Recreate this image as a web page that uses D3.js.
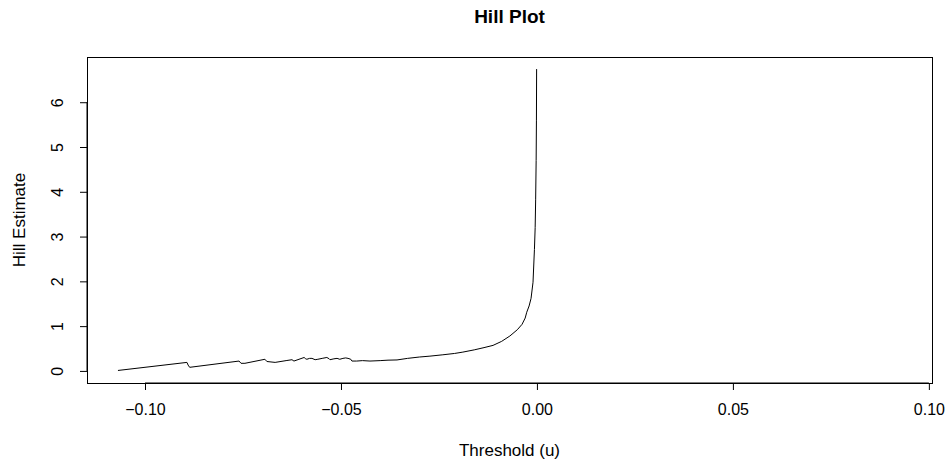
<!DOCTYPE html>
<html>
<head>
<meta charset="utf-8">
<script src="https://cdn.jsdelivr.net/npm/d3@7"></script>
<style>
  body { margin: 0; background: #fff; }
  svg { display: block; }
  text { font-family: "Liberation Sans", Arial, Helvetica, sans-serif; fill: #000; }
</style>
</head>
<body>
<svg id="chart" width="947" height="466"></svg>
<script>
const title = "Hill Plot";
const xLabel = "Threshold (u)";
const yLabel = "Hill Estimate";
const xTicks = [-0.10, -0.05, 0.00, 0.05, 0.10];
const xTickLabels = ["\u22120.10", "\u22120.05", "0.00", "0.05", "0.10"];
const yTicks = [0, 1, 2, 3, 4, 5, 6];
const xDomain = [-0.1148, 0.1008];
const yDomain = [-0.27, 7.01];

// threshold values (u)
const thresholds = [
  -0.1069, -0.0893, -0.0890, -0.0886, -0.0760, -0.0755, -0.0745,
  -0.0694, -0.0689, -0.0668, -0.0640, -0.0625, -0.0620, -0.0594, -0.0590,
  -0.0587, -0.0580, -0.0574, -0.0566, -0.0559, -0.0548, -0.0536, -0.0530,
  -0.0528, -0.0518, -0.0510, -0.0503, -0.0495, -0.0488, -0.0482, -0.0475,
  -0.0472, -0.0460, -0.0445, -0.0426, -0.0400, -0.0380, -0.0357, -0.0330,
  -0.0300, -0.0273, -0.0240, -0.0210, -0.0189, -0.0160, -0.0135, -0.0112,
  -0.0090, -0.0069, -0.0050, -0.0038, -0.0030, -0.0026, -0.0020, -0.0015,
  -0.0010, -0.00064, -0.00045, -0.00033, -0.00020, -0.00013, -0.00008
];
// Hill estimates
const hillValues = [
  0.01, 0.19, 0.13, 0.08, 0.22, 0.17, 0.17,
  0.26, 0.21, 0.19, 0.23, 0.25, 0.22, 0.30, 0.27,
  0.26, 0.28, 0.28, 0.25, 0.26, 0.28, 0.30, 0.27,
  0.25, 0.27, 0.28, 0.26, 0.28, 0.29, 0.28, 0.26,
  0.22, 0.22, 0.23, 0.22, 0.23, 0.24, 0.245, 0.28,
  0.31, 0.33, 0.36, 0.39, 0.42, 0.47, 0.52, 0.57,
  0.66, 0.78, 0.92, 1.04, 1.18, 1.31, 1.45, 1.62,
  1.98, 2.71, 3.20, 3.82, 4.70, 5.60, 6.74
];

const svg = d3.select("#chart");
const L = 87, R = 932, T = 57, B = 383;
const FS = 16;
const x = d3.scaleLinear().domain(xDomain).range([L, R]);
const y = d3.scaleLinear().domain(yDomain).range([B, T]);

// box
svg.append("rect").attr("x", L).attr("y", T).attr("width", R - L).attr("height", B - T)
  .attr("fill", "none").attr("stroke", "#000").attr("stroke-width", 1).attr("shape-rendering", "crispEdges");

// x axis
const xAxis = d3.axisBottom(x).tickValues(xTicks).tickSize(7).tickPadding(14)
  .tickFormat((d, i) => xTickLabels[i]);
const gx = svg.append("g").attr("transform", `translate(0,${B})`).call(xAxis);
gx.select(".domain").attr("d", `M${x(xTicks[0])},0H${x(xTicks[xTicks.length-1])}`).attr("stroke", "#000");
gx.selectAll("text").attr("font-size", FS).attr("font-family", "Liberation Sans, Arial, sans-serif").attr("fill", "#000");
gx.selectAll("line").attr("stroke", "#000");

// y axis
const yAxis = d3.axisLeft(y).tickValues(yTicks).tickSize(7).tickFormat(d3.format("d"));
const gy = svg.append("g").attr("transform", `translate(${L},0)`).call(yAxis);
gy.select(".domain").attr("d", `M0,${y(yTicks[0])}V${y(yTicks[yTicks.length-1])}`).attr("stroke", "#000");
gy.selectAll("line").attr("stroke", "#000");
gy.selectAll("text")
  .attr("font-size", FS).attr("font-family", "Liberation Sans, Arial, sans-serif").attr("fill", "#000")
  .attr("x", null).attr("dy", null)
  .attr("text-anchor", "middle")
  .attr("transform", `translate(-24,0) rotate(-90)`);

// line
const pts = thresholds.map((t, i) => [t, hillValues[i]]);
svg.append("path").datum(pts)
  .attr("fill", "none").attr("stroke", "#000").attr("stroke-width", 1)
  .attr("stroke-linejoin", "round")
  .attr("d", d3.line().x(d => x(d[0])).y(d => y(d[1])));

// titles
svg.append("text").attr("x", (L + R) / 2).attr("y", 23).attr("text-anchor", "middle")
  .attr("font-size", 19).attr("font-weight", "bold").text(title);
svg.append("text").attr("x", (L + R) / 2).attr("y", 456).attr("text-anchor", "middle")
  .attr("font-size", 17).text(xLabel);
svg.append("text").attr("transform", `translate(25,${(T + B) / 2}) rotate(-90)`).attr("text-anchor", "middle")
  .attr("font-size", 17).text(yLabel);
</script>
</body>
</html>
